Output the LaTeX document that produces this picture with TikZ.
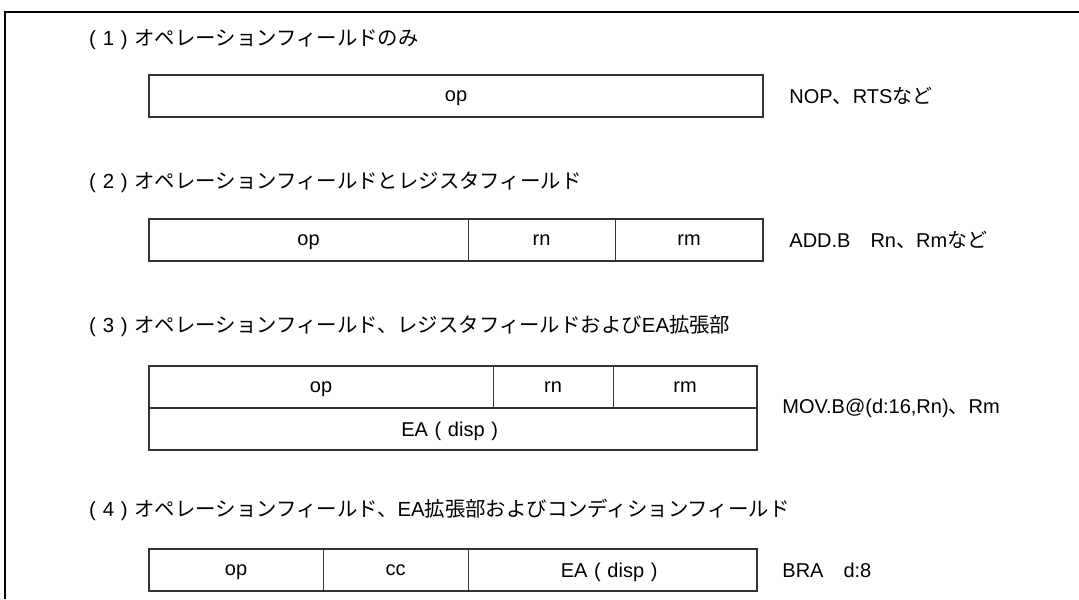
\documentclass[tikz,border=0pt]{standalone}
\usepackage{fontspec}
\setmainfont{Liberation Sans}
\newfontfamily\jpfont{Noto Sans CJK JP}
\usetikzlibrary{positioning}
\definecolor{linegray}{gray}{0.2}
\newcommand\zenl{\makebox[1em]{\normalfont(}}
\newcommand\zenr{\makebox[1em]{\normalfont)}}
\tikzset{
  cell/.style={draw=linegray,line width=0.5pt,inner sep=0pt,outer sep=0pt,
    minimum height=21pt,text depth=0pt,font=\fontsize{10}{12}\selectfont},
  frame/.style={draw=linegray,line width=0.9pt},
  head/.style={anchor=west,inner sep=0pt,font=\fontsize{10.2}{12}\selectfont\jpfont},
  note/.style={anchor=west,inner sep=0pt,font=\fontsize{10}{12}\selectfont}
}
\begin{document}
\begin{tikzpicture}[x=0.5pt,y=-0.5pt]
    \useasboundingbox (0,0) rectangle (1079,599);
    \draw[line width=0.8pt] (1079,12) -- (5,12) -- (5,599);
    \foreach \n/\y/\t in {1/40/{オペレーションフィールドのみ},
        2/182/{オペレーションフィールドとレジスタフィールド},
        3/326/{オペレーションフィールド、レジスタフィールドおよび\textrm{EA}拡張部},
        4/510/{オペレーションフィールド、\textrm{EA}拡張部およびコンディションフィールド}}
    \node[head] (head\n) at (82,\y) {\zenl\textrm{\n}\zenr\t};
% (1)
    \node[cell,anchor=north west,minimum width=307pt] (op1) at (149,75) {op};
    \draw[frame] (op1.north west) rectangle (op1.south east);
    \node[note,right=13pt of op1] (nop) {NOP{\jpfont 、}RTS{\jpfont など}};
% (2)
    \node[cell,anchor=north west,minimum width=159.5pt] (op2) at (149,219) {op};
    \node[cell,minimum width=73.5pt,right=0pt of op2] (rn2) {rn};
    \node[cell,minimum width=74pt,right=0pt of rn2] (rm2) {rm};
    \draw[frame] (op2.north west) rectangle (rm2.south east);
    \node[note,right=13pt of rm2] (add) {ADD.B\hspace{1em}Rn{\jpfont 、}Rm{\jpfont など}};
% (3)
    \node[cell,anchor=north west,minimum width=172pt] (op3) at (149,366) {op};
    \node[cell,minimum width=60pt,right=0pt of op3] (rn3) {rn};
    \node[cell,minimum width=72pt,right=0pt of rn3] (rm3) {rm};
    \node[cell,anchor=north west,minimum width=304pt] (ea3) at (op3.south west) {EA\zenl disp\zenr};
    \draw[frame] (op3.north west) rectangle (ea3.south east);
    \draw[frame] (op3.south west) -- (rm3.south east);
    \node[note,right=12.5pt of rm3.south east] (mov) {MOV.B@(d:16,Rn){\jpfont 、}Rm};
% (4)
    \node[cell,anchor=north west,minimum width=87pt] (op4) at (149,549) {op};
    \node[cell,minimum width=72.5pt,right=0pt of op4] (cc4) {cc};
    \node[cell,minimum width=144.5pt,right=0pt of cc4] (ea4) {EA\zenl disp\zenr};
    \draw[frame] (op4.north west) rectangle (ea4.south east);
    \node[note,right=12.5pt of ea4] (bra) {BRA\hspace{1em}d:8};
\end{tikzpicture}
\end{document}
